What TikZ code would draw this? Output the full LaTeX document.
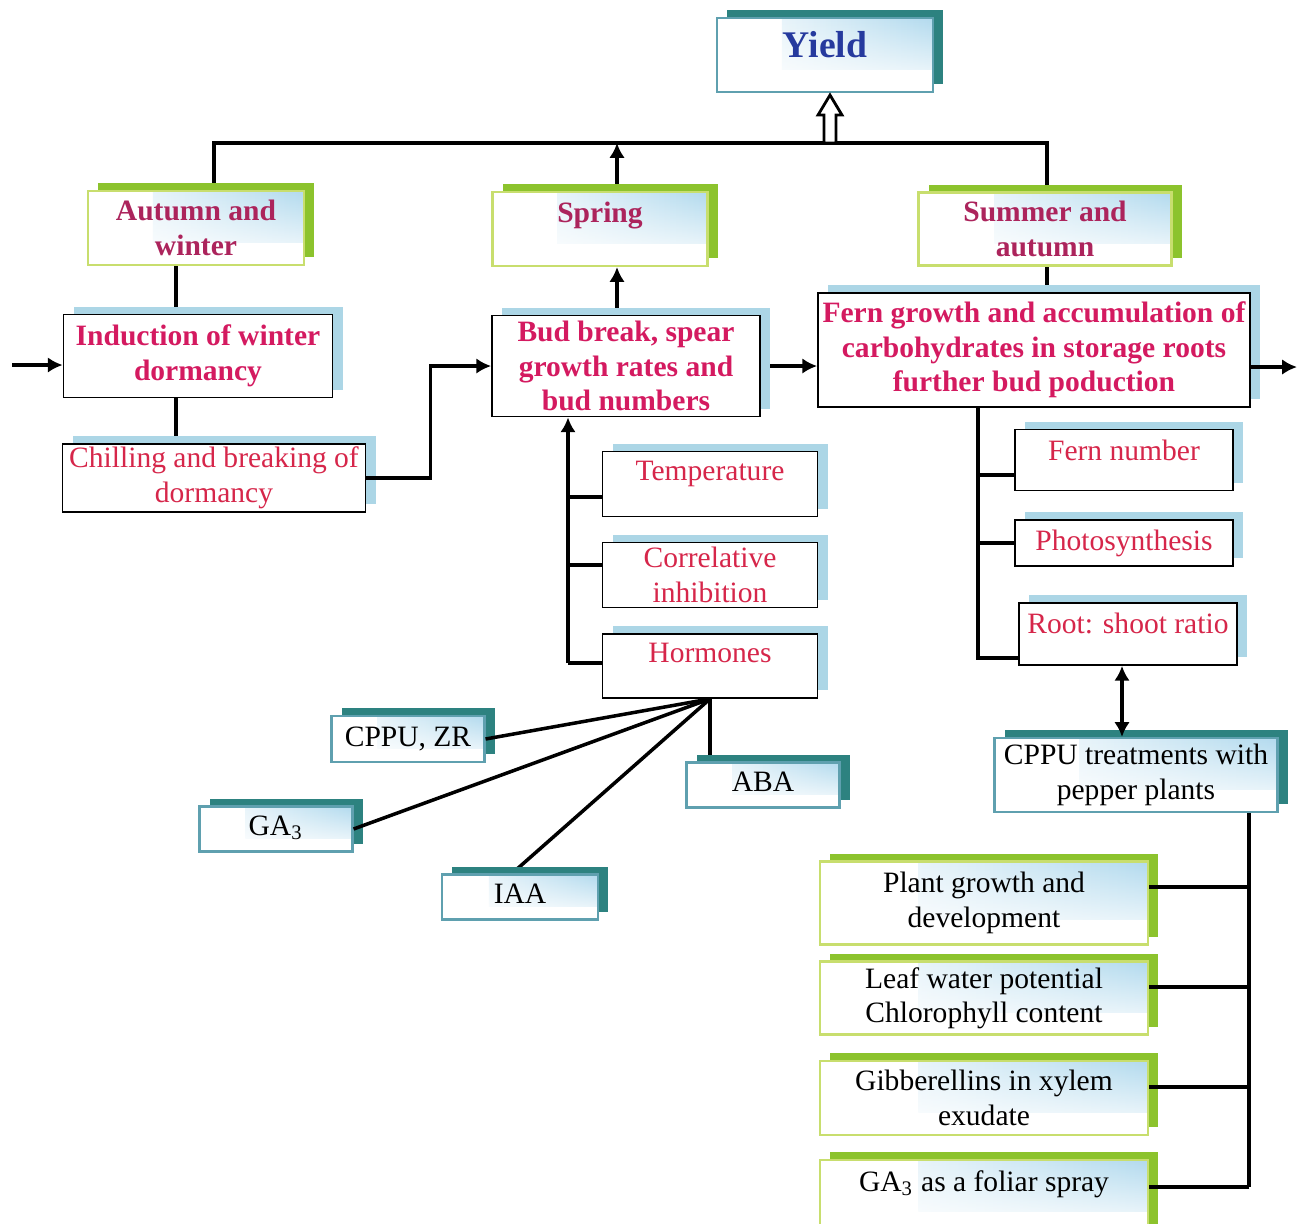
\documentclass[tikz,border=0pt]{standalone}
\usepackage{fontspec}
\setmainfont{Liberation Serif}
\usetikzlibrary{arrows.meta}
\usetikzlibrary{calc}
\usetikzlibrary{shadows}
\usetikzlibrary{fadings}
\usetikzlibrary{backgrounds}

\definecolor{tealshade}{RGB}{45,130,128}
\definecolor{tealedge}{RGB}{95,160,175}
\definecolor{greenshade}{RGB}{140,195,45}
\definecolor{greenedge}{RGB}{200,222,110}
\definecolor{blueshade}{RGB}{172,214,230}
\definecolor{skyfill}{RGB}{178,218,238}
\definecolor{yieldblue}{RGB}{38,58,158}
\definecolor{seasonpink}{RGB}{172,36,92}
\definecolor{stagepink}{RGB}{212,26,96}
\definecolor{factorred}{RGB}{214,38,74}

\tikzset{
  box/.style={rectangle, inner sep=0pt, align=center, font=\fontsize{8.4}{9.8}\selectfont},
  boxsize/.style 2 args={minimum width=#1*0.01cm, minimum height=#2*0.01cm},
  skypatch/.style={fill=white, path picture={
    \shade[left color=white, right color=skyfill, path fading=south]
      ($(path picture bounding box.north west)!0.3!(path picture bounding box.north east)$)
      rectangle ($(path picture bounding box.east)!0.4!(path picture bounding box.south east)$);}},
  tealbox/.style={box, skypatch, draw=tealedge, line width=0.6pt,
    drop shadow={fill=tealshade, opacity=1, shadow xshift=0.1cm, shadow yshift=0.08cm}},
  greenbox/.style={box, skypatch, draw=greenedge, line width=0.6pt,
    drop shadow={fill=greenshade, opacity=1, shadow xshift=0.1cm, shadow yshift=0.08cm}},
  bluebox/.style={box, draw=black, line width=0.5pt, fill=white,
    drop shadow={fill=blueshade, opacity=1, shadow xshift=0.1cm, shadow yshift=0.08cm}},
  season/.style={font=\fontsize{8.4}{9.8}\selectfont\bfseries, text=seasonpink},
  stage/.style={font=\fontsize{8.4}{9.8}\selectfont\bfseries, text=stagepink},
  factor/.style={text=factorred},
  raisetext/.style={text depth=#1},
  conn/.style={line width=1pt},
}

\begin{document}
\begin{tikzpicture}[x=0.01cm, y=-0.01cm, >={Latex[length=4.2pt,width=4.4pt]}]
\useasboundingbox (0,0) rectangle (1299,1223);

% yield and the three seasons
\node[tealbox, boxsize={216}{74}, raisetext=0.22cm, font=\fontsize{10.7}{12}\selectfont\bfseries, text=yieldblue] (yield) at (825,55) {Yield};
\node[greenbox, boxsize={216}{74}, season] (autumn) at (196,228) {Autumn and\\winter};
\node[greenbox, boxsize={215}{74}, season, raisetext=0.34cm] (spring) at (600,229) {Spring};
\node[greenbox, boxsize={253}{73}, season] (summer) at (1045,229) {Summer and\\autumn};

% stages
\node[bluebox, boxsize={269}{83}, stage] (induct) at (198,356) {Induction of winter\\dormancy};
\node[bluebox, boxsize={303}{68}, factor] (chill) at (214,478) {Chilling and breaking of\\dormancy};
\node[bluebox, boxsize={268}{101}, stage] (bud) at (626,366) {Bud break, spear\\growth rates and\\bud numbers};
\node[bluebox, boxsize={432}{114}, stage] (fern) at (1034,350) {Fern growth and accumulation of\\carbohydrates in storage roots\\further bud poduction};

% factors for bud break
\node[bluebox, boxsize={215}{65}, factor, raisetext=0.26cm] (temp) at (710,484) {Temperature};
\node[bluebox, boxsize={215}{65}, factor] (correl) at (710,575) {Correlative\\inhibition};
\node[bluebox, boxsize={215}{64}, factor, raisetext=0.26cm] (horm) at (710,666) {Hormones};

% hormones
\node[tealbox, boxsize={153}{46}, raisetext=0.04cm] (cppuzr) at (408,739) {CPPU, ZR};
\node[tealbox, boxsize={153}{45}, raisetext=0.06cm] (aba) at (763,785) {ABA};
\node[tealbox, boxsize={153}{45}, raisetext=0.06cm] (gathree) at (276,829) {GA\textsubscript{3}};
\node[tealbox, boxsize={156}{45}, raisetext=0.06cm] (iaa) at (520,897) {IAA};

% factors for fern growth
\node[bluebox, boxsize={218}{61}, factor, raisetext=0.20cm] (fernno) at (1124,460) {Fern number};
\node[bluebox, boxsize={218}{46}, factor] (photo) at (1124,543) {Photosynthesis};
\node[bluebox, boxsize={218}{62}, factor, raisetext=0.22cm] (root) at (1128,634) {Root: shoot ratio};

% pepper trials
\node[tealbox, boxsize={283}{74}] (cpputr) at (1136,775) {CPPU treatments with\\pepper plants};
\node[greenbox, boxsize={328}{83}] (plant) at (984,903) {Plant growth and\\development};
\node[greenbox, boxsize={328}{73}] (leaf) at (984,998) {Leaf water potential\\Chlorophyll content};
\node[greenbox, boxsize={328}{74}] (gibb) at (984,1098) {Gibberellins in xylem\\exudate};
\node[greenbox, boxsize={328}{74}, raisetext=0.32cm] (foliar) at (984,1197) {GA\textsubscript{3} as a foliar spray};

% connector points
\coordinate (barl) at (214,143);
\coordinate (barr) at (1047,143);
\coordinate (sprx) at (617,143);
\coordinate (wint) at (176,0);
\coordinate (inl) at (12,365);
\coordinate (outr) at (1297,367);
\coordinate (fspine) at (978,658);
\coordinate (hspine) at (568,663);
\coordinate (cspine) at (1249,1187);
\coordinate (dbl) at (1122,0);

\begin{scope}[on background layer]
  % bar under the yield box
  \draw[conn] (autumn.north -| barl) -- (barl) -- (barr) -- (summer.north -| barr);
  \draw[conn,->] (spring.north -| sprx) -- (sprx);
  \draw[conn,->] (bud.north -| sprx) -- (spring.south -| sprx);

  % autumn and winter column
  \draw[conn] (autumn.south -| wint) -- (induct.north -| wint);
  \draw[conn] (induct.south -| wint) -- (chill.north -| wint);

  % spring to summer
  \draw[conn,->] (bud.east) -- (bud.east -| fern.west);
  \draw[conn] (summer.south -| barr) -- (fern.north -| barr);

  % fern factors
  \draw[conn] (fern.south -| fspine) -- (fspine) -- (root.west |- fspine);
  \foreach \n/\yy in {fernno/475,photo/543} {
    \coordinate (fb) at (978,\yy);
    \draw[conn] (fb) -- (\n.west |- fb);
  }

  % bud break factors
  \draw[conn,->] (hspine) -- (bud.south -| hspine);
  \draw[conn] (hspine) -- (horm.west |- hspine);
  \foreach \n/\yy in {temp/497,correl/565} {
    \coordinate (hb) at (568,\yy);
    \draw[conn] (hb) -- (\n.west |- hb);
  }

  % hormones fan
  \draw[conn] (horm.south) -- (aba.north -| horm.south);
  \draw[conn] (horm.south) -- ([xshift=-0.08cm]iaa.north);
\end{scope}

\draw[conn] (horm.south) -- (cppuzr.east);
\draw[conn] (horm.south) -- (gathree.east);

% in and out of the yearly cycle
\draw[conn,->] (inl) -- (induct.west |- inl);
\draw[conn,->] (chill.east) -- ++(64,0) |- (bud.west);
\draw[conn,->] (fern.east |- outr) -- (outr);

% pepper trials
\draw[conn,<->] (root.south -| dbl) -- (cpputr.north -| dbl);
\draw[conn] (cpputr.south -| cspine) -- (cspine);
\foreach \n/\yy in {plant/887,leaf/987,gibb/1087,foliar/1187} {
  \coordinate (cb) at (1249,\yy);
  \draw[conn] (cb) -- (\n.east |- cb);
}

% hollow arrow up to yield
\draw[line width=0.8pt, fill=white] ([xshift=0.05cm,yshift=-0.02cm]yield.south)
  -- ++(12,20) -- ++(-6,0) -- ++(0,28) -- ++(-12,0) -- ++(0,-28) -- ++(-6,0) -- cycle;
\end{tikzpicture}
\end{document}
